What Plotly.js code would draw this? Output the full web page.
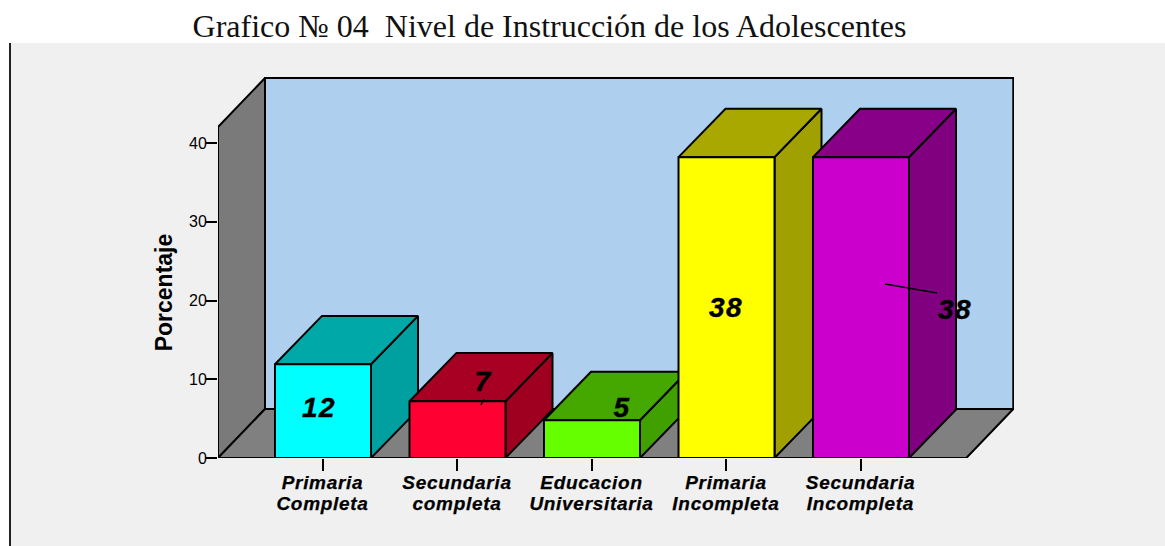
<!DOCTYPE html>
<html><head><meta charset="utf-8">
<script src="https://cdn.plot.ly/plotly-3.0.1.min.js"></script>
<style>html,body{margin:0;padding:0;background:#fff}#c{width:1165px;height:546px}
.xtick text{letter-spacing:.7px;stroke:#000;stroke-width:.25px}
.textpoint text{letter-spacing:1.5px;stroke:#000;stroke-width:.4px}
</style>
</head><body><div id="c"></div>
<script>
// ---- data ----
const categories = ["Primaria<br>Completa","Secundaria<br>completa","Educacion<br>Universitaria","Primaria<br>Incompleta","Secundaria<br>Incompleta"];
const values = [11.9, 7.2, 4.8, 38.2, 38.2];
const valueLabels = ["12","7","5","38","38"];
const yTicks = [0,10,20,30,40];

// ---- styling ----
const frontColors = ["#00ffff","#ff0033","#66ff00","#ffff00","#cc00cc"];
const topColors   = ["#00a8a8","#a80022","#44a800","#a8a800","#880088"];
const sideColors  = ["#00a0a0","#a00020","#40a000","#a0a000","#800080"];
const W=1165,H=546, L=218,R=1014,T=76,WALLT=127,B=458;
const pxPerCat=134.5, x0px=322.5, pxPerVal=7.875;
const barL=47.5/pxPerCat, barR=48.5/pxPerCat, dx=47/pxPerCat, dy=49/pxPerVal, barDy=48.4/pxPerVal;
const yMax=(B-T)/pxPerVal, axisMax=(B-WALLT)/pxPerVal, xMin=(L-x0px)/pxPerCat, xMax=(R-x0px)/pxPerCat;
const wallLeft=xMin, wallRight=(966.3-x0px)/pxPerCat, wallTop=axisMax;
const ln={color:"#000",width:2};
const poly=(xs,ys,fill)=>({type:"scatter",mode:"lines",x:xs,y:ys,xaxis:"x",yaxis:"y",fill:"toself",fillcolor:fill,
  line:ln,hoverinfo:"skip",showlegend:false});

const traces=[];
// walls and floor
traces.push(poly([wallLeft+dx,wallRight+dx,wallRight+dx,wallLeft+dx,wallLeft+dx],[dy,dy,wallTop+dy,wallTop+dy,dy],"#aed0ee"));
traces.push(poly([wallLeft,wallLeft+dx,wallLeft+dx,wallLeft,wallLeft],[0,dy,wallTop+dy,wallTop,0],"#7a7a7a"));
traces.push(poly([wallLeft,wallRight,wallRight+dx,wallLeft+dx,wallLeft],[0,0,dy,dy,0],"#808080"));
// bars
values.forEach((v,i)=>{
  const a=i-barL,b=i+barR;
  traces.push(poly([b,b+dx,b+dx,b,b],[0,barDy,v+barDy,v,0],sideColors[i]));
  traces.push(poly([a,b,b+dx,a+dx,a],[v,v,v+barDy,v+barDy,v],topColors[i]));
  traces.push(poly([a,b,b,a,a],[0,0,v,v,0],frontColors[i]));
});
// label leader lines and labels (on the ticked value axis)
const px2x=p=>(p-x0px)/pxPerCat, px2y=p=>(B-p)/pxPerVal;
const labelPx=[[319,410],[483,384],[622,410],[726,310],[955,312]];
traces.push({type:"scatter",mode:"lines",xaxis:"x",yaxis:"y2",x:[px2x(885),px2x(937),null,px2x(481),px2x(484)],
  y:[px2y(284),px2y(293),null,px2y(405),px2y(399)],line:{color:"#000",width:1.5},hoverinfo:"skip",showlegend:false});
traces.push({type:"scatter",mode:"text",xaxis:"x",yaxis:"y2",x:labelPx.map(p=>px2x(p[0])),y:labelPx.map(p=>px2y(p[1])),text:valueLabels,
  textposition:"middle center",textfont:{family:"Liberation Sans",size:28,color:"#000",weight:"bold",style:"italic"},
  hoverinfo:"skip",showlegend:false,cliponaxis:false});

const layout={
  width:W,height:H,autosize:false,showlegend:false,hovermode:false,
  paper_bgcolor:"#fff",plot_bgcolor:"rgba(0,0,0,0)",
  margin:{l:L,r:W-R,t:T,b:H-B,pad:0},
  title:{text:"Grafico № 04  Nivel de Instrucción de los Adolescentes",
    font:{family:"Liberation Serif",size:32,color:"#111"},
    xref:"container",yref:"container",x:549.5/W,xanchor:"center",y:1-26/H,yanchor:"middle"},
  xaxis:{range:[xMin,xMax],tickmode:"array",tickvals:categories.map((c,i)=>i),ticktext:categories,
    ticks:"outside",ticklen:12,tickwidth:2,tickcolor:"#000",showgrid:false,zeroline:false,showline:false,
    ticklabelstandoff:-5,anchor:"y",
    tickangle:0,tickfont:{family:"Liberation Sans",size:19,color:"#000",weight:"bold",style:"italic"}},
  yaxis:{domain:[0,1],range:[0,yMax],showticklabels:false,ticks:"",showgrid:false,zeroline:false,showline:false},
  yaxis2:{domain:[0,(B-WALLT)/(B-T)],anchor:"x",range:[0,axisMax],tickmode:"array",tickvals:yTicks,ticks:"outside",ticklen:11,tickwidth:2,tickcolor:"#000",
    showgrid:false,zeroline:false,showline:false,ticklabelstandoff:-4,tickfont:{family:"Liberation Sans",size:16,color:"#000"},
    title:{text:"Porcentaje",standoff:9.5,font:{family:"Liberation Sans",size:23,color:"#000",weight:"bold"}}},
  shapes:[
    {type:"rect",layer:"below",xref:"paper",yref:"paper",x0:(10-L)/(R-L),x1:(W-L)/(R-L),y0:(B-H)/(B-T),y1:(B-43)/(B-T),fillcolor:"#f0f0f0",line:{width:0}},
    {type:"line",layer:"below",xref:"paper",yref:"paper",x0:(10-L)/(R-L),x1:(10-L)/(R-L),y0:(B-H)/(B-T),y1:(B-43)/(B-T),line:{color:"#222",width:2}}
  ]
};
Plotly.newPlot("c",traces,layout,{displayModeBar:false,staticPlot:true}).then(()=>{
  // tighten the two-line category labels to the reference's line spacing
  document.querySelectorAll(".xtick tspan.line").forEach(t=>{ if(parseFloat(t.getAttribute("dy"))>0) t.setAttribute("dy","20.7px"); });
});
</script></body></html>
